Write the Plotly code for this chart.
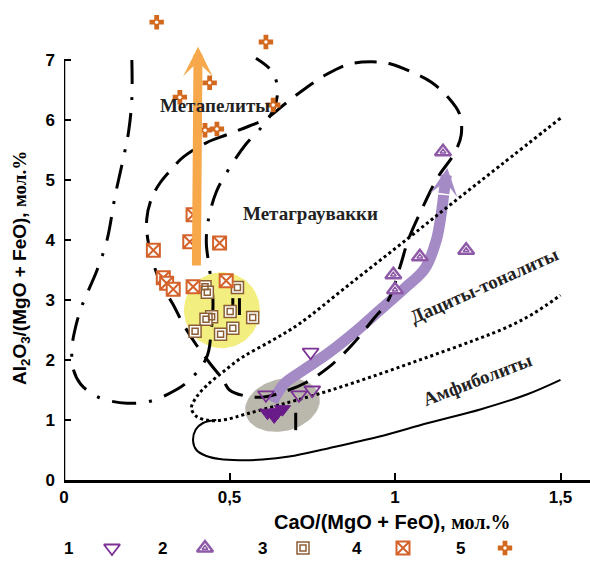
import numpy as np
import plotly.graph_objects as go

# ---------------- sample groups (CaO/(MgO+FeO), Al2O3/(MgO+FeO)) ----------------
g1_x = [0.745, 0.61, 0.71, 0.75]
g1_y = [2.13, 1.42, 1.42, 1.50]
g1_dense_x = [0.615, 0.635, 0.66, 0.645]
g1_dense_y = [1.12, 1.06, 1.18, 1.13]

g2_x = [1.145, 1.075, 1.215, 0.995, 1.0]
g2_y = [5.47, 3.72, 3.83, 3.42, 3.17]

g3_x = [0.426, 0.433, 0.524, 0.446, 0.429, 0.396, 0.502, 0.570, 0.510, 0.473]
g3_y = [3.22, 3.13, 3.21, 2.72, 2.68, 2.48, 2.81, 2.71, 2.53, 2.43]

g4_x = [0.39, 0.38, 0.47, 0.27, 0.30, 0.31, 0.33, 0.39, 0.49]
g4_y = [4.42, 3.97, 3.95, 3.83, 3.37, 3.28, 3.18, 3.22, 3.32]

g5_x = [0.28, 0.61, 0.44, 0.35, 0.426, 0.462, 0.632]
g5_y = [7.63, 7.30, 6.62, 6.38, 5.83, 5.85, 6.25]

# ---------------- field boundaries ----------------
# metapelite field (dash-dot)
pel_x = [0.205, 0.205, 0.195, 0.18, 0.155, 0.13, 0.10, 0.054, 0.035, 0.024, 0.028, 0.05,
         0.09, 0.13, 0.19, 0.25, 0.31, 0.37, 0.43, 0.445, 0.45, 0.44, 0.43, 0.435, 0.46,
         0.50, 0.55, 0.60, 0.635, 0.645, 0.63, 0.58]
pel_y = [7.0, 6.35, 5.8, 5.38, 4.75, 4.0, 3.5, 2.9, 2.55, 2.2, 1.85, 1.6,
         1.42, 1.33, 1.28, 1.30, 1.42, 1.62, 2.03, 2.5, 3.0, 3.5, 3.95, 4.3, 4.8,
         5.2, 5.6, 5.9, 6.2, 6.5, 6.8, 7.03]

# metagraywacke field (dashed loop)
gw_x = [0.36, 0.43, 0.49, 0.56, 0.61, 0.67, 0.73, 0.79, 0.86, 0.93, 0.99, 1.05, 1.11,
        1.16, 1.195, 1.20, 1.18, 1.13, 1.08, 1.04, 1.015, 0.98, 0.93, 0.87, 0.80, 0.73,
        0.67, 0.60, 0.54, 0.50, 0.48, 0.44, 0.40, 0.36, 0.33, 0.29, 0.255, 0.25, 0.265,
        0.29, 0.325, 0.36]
gw_y = [5.38, 5.62, 5.75, 5.9, 6.02, 6.28, 6.53, 6.75, 6.93, 6.97, 6.93, 6.8, 6.63,
        6.38, 6.1, 5.75, 5.45, 5.05, 4.5, 4.0, 3.55, 3.0, 2.65, 2.25, 1.88, 1.62,
        1.48, 1.38, 1.41, 1.5, 1.67, 1.95, 2.25, 2.6, 2.92, 3.3, 3.95, 4.35, 4.7,
        4.95, 5.18, 5.38]

# dacite-tonalite field (dotted)
dt_x = [1.50, 1.32, 1.17, 1.04, 0.86, 0.71, 0.63, 0.54, 0.48, 0.43, 0.40, 0.385, 0.40,
        0.44, 0.49, 0.55, 0.65, 0.79, 0.95, 1.10, 1.24, 1.34, 1.42, 1.50]
dt_y = [6.03, 5.25, 4.6, 4.03, 3.25, 2.6, 2.33, 2.05, 1.8, 1.57, 1.38, 1.2, 1.06,
        0.99, 1.01, 1.1, 1.25, 1.47, 1.76, 2.05, 2.33, 2.55, 2.78, 3.08]

# amphibolite field (solid)
am_x = [0.46, 0.42, 0.398, 0.39, 0.40, 0.43, 0.47, 0.53, 0.60, 0.68, 0.80, 0.95, 1.10,
        1.26, 1.40, 1.50]
am_y = [1.0, 0.95, 0.84, 0.65, 0.5, 0.4, 0.35, 0.33, 0.34, 0.39, 0.53, 0.72, 0.95,
        1.18, 1.43, 1.67]

# short isolated boundary strokes
stroke_x = [[0.51, 0.51], [0.53, 0.53], [0.70, 0.70]]
stroke_y = [[2.75, 3.03], [2.75, 3.03], [0.83, 1.12]]

# evolution trends
trend_or_x = [0.400, 0.405]
trend_or_y = [3.55, 7.22]
trend_pu_x = [0.63, 0.665, 0.72, 0.80, 0.88, 0.96, 1.03, 1.09, 1.125, 1.14, 1.147]
trend_pu_y = [1.30, 1.60, 1.82, 2.12, 2.47, 2.86, 3.20, 3.52, 4.0, 4.45, 4.75]
trend_pu_tip = (1.158, 5.20)

# highlighted composition clusters: centre, semi-axes (px), tilt (deg)
blob_yellow = dict(c=(0.477, 2.83), r=(38, 38), tilt=0, color="#F3EE80")
blob_gray = dict(c=(0.66, 1.25), r=(38, 26), tilt=-14, color="#BAB7AD")

tick_x = [0, 0.5, 1, 1.5]
tick_x_text = ["0", "0,5", "1", "1,5"]
tick_y = [0, 1, 2, 3, 4, 5, 6, 7]

W, H = 590, 570
PX_X, PX_Y = 331.0, 60.0          # pixels per unit on each axis
X0_PX, Y0_PX = 64, 480            # origin position in the page
x_range = [0, (W - X0_PX) / PX_X]
y_range = [0, Y0_PX / PX_Y]

PURPLE = "#7B3294"
LAV = "#8E5AA8"
BROWN = "#8B5E34"
ORANGE = "#D4622B"
CROSS = "#D2691E"

fig = go.Figure()


def ellipse(b, n=80):
    t = np.linspace(0, 2 * np.pi, n)
    a = np.deg2rad(b["tilt"])
    ex = b["r"][0] * np.cos(t)
    ey = b["r"][1] * np.sin(t)
    px = ex * np.cos(a) - ey * np.sin(a)
    py = ex * np.sin(a) + ey * np.cos(a)
    return b["c"][0] + px / PX_X, b["c"][1] - py / PX_Y


for b in (blob_yellow, blob_gray):
    ex, ey = ellipse(b)
    fig.add_trace(go.Scatter(x=ex, y=ey, mode="lines", fill="toself",
                             fillcolor=b["color"], line=dict(width=0),
                             hoverinfo="skip", showlegend=False))

# purple trend shaft
fig.add_trace(go.Scatter(x=trend_pu_x, y=trend_pu_y, mode="lines",
                         line=dict(color="#A48BC6", width=11, shape="spline"),
                         hoverinfo="skip", showlegend=False))

# field boundaries
line_kw = dict(mode="lines", hoverinfo="skip", showlegend=False)
fig.add_trace(go.Scatter(x=pel_x, y=pel_y, line=dict(color="black", width=3, shape="spline",
                                                     dash="24px,13px,3px,13px"), **line_kw))
fig.add_trace(go.Scatter(x=gw_x, y=gw_y, line=dict(color="black", width=3, shape="spline",
                                                   dash="22px,12px"), **line_kw))
fig.add_trace(go.Scatter(x=dt_x, y=dt_y, line=dict(color="black", width=3, shape="spline",
                                                   dash="3px,3px"), **line_kw))
fig.add_trace(go.Scatter(x=am_x, y=am_y, line=dict(color="black", width=2, shape="spline"),
                         **line_kw))
for sx, sy in zip(stroke_x, stroke_y):
    fig.add_trace(go.Scatter(x=sx, y=sy, line=dict(color="black", width=3), **line_kw))

# samples
mk = dict(mode="markers", hoverinfo="skip", showlegend=False, cliponaxis=False)
fig.add_trace(go.Scatter(x=g1_dense_x, y=g1_dense_y, marker=dict(
    symbol="triangle-down", size=14, color="#6A1B8A", line=dict(color="#6A1B8A", width=1)), **mk))
fig.add_trace(go.Scatter(x=g1_x, y=g1_y, marker=dict(
    symbol="triangle-down-open", size=14, color=PURPLE, line=dict(color=PURPLE, width=1.8)), **mk))
fig.add_trace(go.Scatter(x=g2_x, y=g2_y, marker=dict(
    symbol="triangle-up", size=14, color="white", line=dict(color=LAV, width=2.5)), **mk))
fig.add_trace(go.Scatter(x=g2_x, y=g2_y, marker=dict(
    symbol="triangle-up-open", size=5, color=LAV, line=dict(color=LAV, width=1.5)), **mk))
fig.add_trace(go.Scatter(x=g3_x, y=g3_y, marker=dict(
    symbol="square", size=12, color="white", line=dict(color=BROWN, width=1.5)), **mk))
fig.add_trace(go.Scatter(x=g3_x, y=g3_y, marker=dict(
    symbol="square-open", size=6, color=BROWN, line=dict(color=BROWN, width=1.5)), **mk))
fig.add_trace(go.Scatter(x=g4_x, y=g4_y, marker=dict(
    symbol="square-x", size=13, color="white", line=dict(color=ORANGE, width=2)), **mk))
fig.add_trace(go.Scatter(x=g5_x, y=g5_y, marker=dict(
    symbol="cross", size=12, color=CROSS, line=dict(color=CROSS, width=0)), **mk))
fig.add_trace(go.Scatter(x=g5_x, y=g5_y, marker=dict(
    symbol="circle", size=3.5, color="white", line=dict(width=0)), **mk))

# ---------------- legend row (pixel-unit axes under the plot) ----------------
leg_num = ["1", "2", "3", "4", "5"]
leg_num_px = [68, 162, 262, 357, 460]
leg_sym_px = [112, 205, 303, 403, 505]
LEG_Y = 22
leg_kw = dict(mode="markers", hoverinfo="skip", showlegend=False, xaxis="x2", yaxis="y2",
              cliponaxis=False)
fig.add_trace(go.Scatter(x=[leg_sym_px[0]], y=[LEG_Y], marker=dict(
    symbol="triangle-down-open", size=14, color=PURPLE, line=dict(color=PURPLE, width=1.8)), **leg_kw))
fig.add_trace(go.Scatter(x=[leg_sym_px[1]], y=[LEG_Y], marker=dict(
    symbol="triangle-up", size=14, color="white", line=dict(color=LAV, width=2.5)), **leg_kw))
fig.add_trace(go.Scatter(x=[leg_sym_px[1]], y=[LEG_Y], marker=dict(
    symbol="triangle-up-open", size=5, color=LAV, line=dict(color=LAV, width=1.5)), **leg_kw))
fig.add_trace(go.Scatter(x=[leg_sym_px[2]], y=[LEG_Y], marker=dict(
    symbol="square", size=12, color="white", line=dict(color=BROWN, width=1.5)), **leg_kw))
fig.add_trace(go.Scatter(x=[leg_sym_px[2]], y=[LEG_Y], marker=dict(
    symbol="square-open", size=6, color=BROWN, line=dict(color=BROWN, width=1.5)), **leg_kw))
fig.add_trace(go.Scatter(x=[leg_sym_px[3]], y=[LEG_Y], marker=dict(
    symbol="square-x", size=13, color="white", line=dict(color=ORANGE, width=2)), **leg_kw))
fig.add_trace(go.Scatter(x=[leg_sym_px[4]], y=[LEG_Y], marker=dict(
    symbol="cross", size=12, color=CROSS, line=dict(width=0)), **leg_kw))
fig.add_trace(go.Scatter(x=[leg_sym_px[4]], y=[LEG_Y], marker=dict(
    symbol="circle", size=3.5, color="white", line=dict(width=0)), **leg_kw))

annotations = []
for t, xp in zip(leg_num, leg_num_px):
    annotations.append(dict(x=xp, y=LEG_Y, xref="x2", yref="y2", text=t, showarrow=False,
                            xanchor="center", yanchor="middle",
                            font=dict(family="Liberation Sans", size=17, color="black",
                                      weight="bold")))

# trend arrows
annotations.append(dict(x=trend_or_x[1], y=trend_or_y[1], ax=trend_or_x[0], ay=trend_or_y[0],
                        xref="x", yref="y", axref="x", ayref="y", text="", showarrow=True,
                        arrowhead=3, arrowwidth=9, arrowsize=0.55, arrowcolor="#F6A84A"))
annotations.append(dict(x=trend_pu_tip[0], y=trend_pu_tip[1], ax=trend_pu_x[-1],
                        ay=trend_pu_y[-1], xref="x", yref="y", axref="x", ayref="y", text="",
                        showarrow=True, arrowhead=3, arrowwidth=11, arrowsize=0.42,
                        arrowcolor="#A48BC6"))

# field names
serif = dict(family="Liberation Serif", size=19, color="#222222", weight="bold")
for txt, x, y, ang in [("Метапелиты", 0.456, 6.25, 0),
                       ("Метаграувакки", 0.746, 4.45, 0),
                       ("Дациты-тоналиты", 1.27, 3.25, -24),
                       ("Амфиболиты", 1.25, 1.67, -21)]:
    annotations.append(dict(x=x, y=y, xref="x", yref="y", text=txt, showarrow=False,
                            xanchor="center", yanchor="middle", textangle=ang, font=serif))

# axis titles
annotations.append(dict(
    x=392 / W, y=(H - 522) / H, xref="paper", yref="paper", showarrow=False,
    xanchor="center", yanchor="middle",
    text="CaO/(MgO + FeO), <span style='font-family:Liberation Serif'>мол.%</span>",
    font=dict(family="Liberation Sans", size=20, color="black", weight="bold")))
annotations.append(dict(
    x=21 / W, y=(H - 268) / H, xref="paper", yref="paper", showarrow=False, textangle=-90,
    xanchor="center", yanchor="middle",
    text="Al<sub>2</sub>O<sub>3</sub>/(MgO + FeO), "
         "<span style='font-family:Liberation Serif'>мол.%</span>",
    font=dict(family="Liberation Sans", size=19, color="black", weight="bold")))

# y axis line only up to 7
shapes = [dict(type="line", xref="x", yref="y", x0=0, x1=0, y0=0, y1=7,
               line=dict(color="black", width=2.5))]

tickfont = dict(family="Liberation Sans", size=17, color="black", weight="bold")
fig.update_layout(
    width=W, height=H, margin=dict(l=0, r=0, t=0, b=0),
    paper_bgcolor="white", plot_bgcolor="white",
    showlegend=False, annotations=annotations, shapes=shapes,
    xaxis=dict(domain=[X0_PX / W, 1], range=x_range, tickvals=tick_x, ticktext=tick_x_text,
               ticks="inside", ticklen=7, tickwidth=2, tickcolor="black",
               showline=True, linewidth=2.5, linecolor="black", showgrid=False,
               zeroline=False, automargin=False, tickfont=tickfont),
    yaxis=dict(domain=[(H - Y0_PX) / H, 1], range=y_range, tickvals=tick_y,
               ticks="inside", ticklen=7, tickwidth=2, tickcolor="black",
               ticklabelstandoff=8,
               showline=False, showgrid=False, zeroline=False, automargin=False,
               tickfont=tickfont),
    xaxis2=dict(domain=[0, 1], range=[0, W], visible=False, fixedrange=True),
    yaxis2=dict(domain=[0, (H - Y0_PX) / H], range=[0, H - Y0_PX], visible=False,
                fixedrange=True),
)

fig.write_html("out.html")
